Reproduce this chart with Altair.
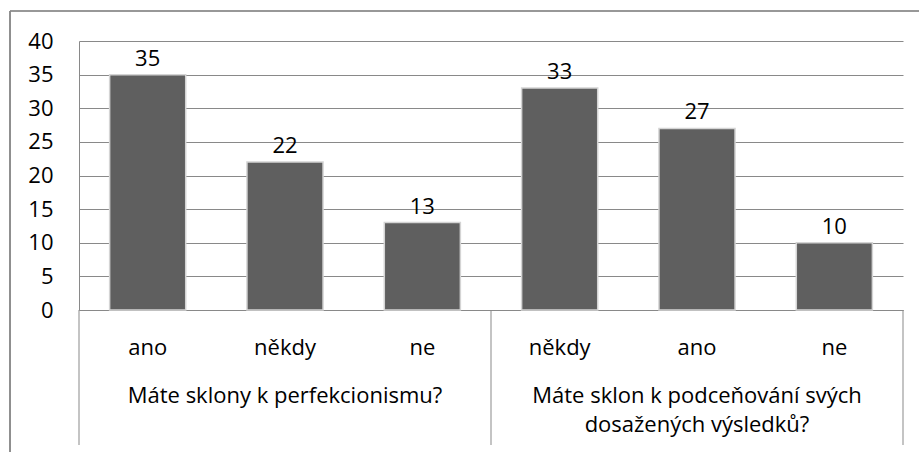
import altair as alt
import pandas as pd

groups = ["Máte sklony k perfekcionismu?", "Máte sklon k podceňování svých\ndosažených výsledků?"]
group_sizes = [3, 3]
categories = ["ano", "někdy", "ne", "někdy", "ano", "ne"]
values = [35, 22, 13, 33, 27, 10]
y_ticks = [0, 5, 10, 15, 20, 25, 30, 35, 40]

FONT = "Open Sans"
FS = 22
GRAY = "#898989"
BAR = "#5f5f5f"
HALF = 0.277  # half bar width as fraction of slot

bars_df = pd.DataFrame({
    "pos": list(range(len(categories))),
    "cat": categories,
    "value": values,
})

starts = []
s = 0
for n in group_sizes:
    starts.append(s)
    s += n
grp_df = pd.DataFrame({
    "label": [g.split("\n") for g in groups],
    "center": [st + n / 2 for st, n in zip(starts, group_sizes)],
})
bounds = [0] + [st + n for st, n in zip(starts, group_sizes)]
sep_df = pd.DataFrame({"b": bounds})

xs = alt.Scale(domain=[0, len(categories)], nice=False, zero=False)
ys = alt.Scale(domain=[0, 40], nice=False)

yaxis = alt.Axis(values=y_ticks, grid=True, gridColor=GRAY, gridWidth=1,
                 domain=True, domainColor=GRAY, domainWidth=1, labelOverlap=False,
                 ticks=False, labelPadding=26, labelFont=FONT,
                 labelFontSize=FS, labelColor="black", title=None)
xaxis = alt.Axis(labels=False, ticks=False, grid=False, domain=True,
                 domainColor=GRAY, domainWidth=1, title=None)

base = alt.Chart(bars_df).transform_calculate(
    c="datum.pos + 0.5",
    x1=f"datum.pos + 0.5 - {HALF}",
    x2=f"datum.pos + 0.5 + {HALF}",
    zero="0",
)

bars = base.mark_bar(color=BAR, stroke="#d4d4d4", strokeWidth=1.5).encode(
    x=alt.X("x1:Q", scale=xs, axis=xaxis),
    x2="x2:Q",
    y=alt.Y("value:Q", scale=ys, axis=yaxis),
    y2="zero:Q",
)

vlabels = base.mark_text(font=FONT, fontSize=FS, color="black",
                         baseline="alphabetic", dy=-9).encode(
    x=alt.X("c:Q", scale=xs, axis=xaxis),
    y=alt.Y("value:Q", scale=ys, axis=yaxis), text="value:Q")

catlabels = base.mark_text(font=FONT, fontSize=FS, color="black",
                           baseline="alphabetic").encode(
    x=alt.X("c:Q", scale=xs, axis=xaxis), y=alt.value(314), text="cat:N")

glabels = alt.Chart(grp_df).mark_text(font=FONT, fontSize=FS, color="black",
                                      baseline="alphabetic", lineHeight=29).encode(
    x=alt.X("center:Q", scale=xs, axis=xaxis), y=alt.value(362), text="label")

seps = alt.Chart(sep_df).mark_rule(color=GRAY, strokeWidth=1).encode(
    x=alt.X("b:Q", scale=xs, axis=xaxis), y=alt.value(269), y2=alt.value(404))

border_top = alt.Chart(sep_df).mark_rule(color=GRAY, strokeWidth=1.2).encode(
    x=alt.value(-69), x2=alt.value(860), y=alt.value(-30))
border_left = alt.Chart(sep_df).mark_rule(color=GRAY, strokeWidth=1.2).encode(
    x=alt.value(-69), y=alt.value(-30), y2=alt.value(420))

chart = alt.layer(bars, border_top, border_left, seps, vlabels, catlabels, glabels).properties(
    width=824, height=269,
    padding={"left": 79, "top": 41, "right": 16, "bottom": 142},
    autosize=alt.AutoSizeParams(type="none"),
    background="white",
).configure_view(stroke=None)

chart.save("out.html", embed_options={"renderer": "svg", "actions": False})
